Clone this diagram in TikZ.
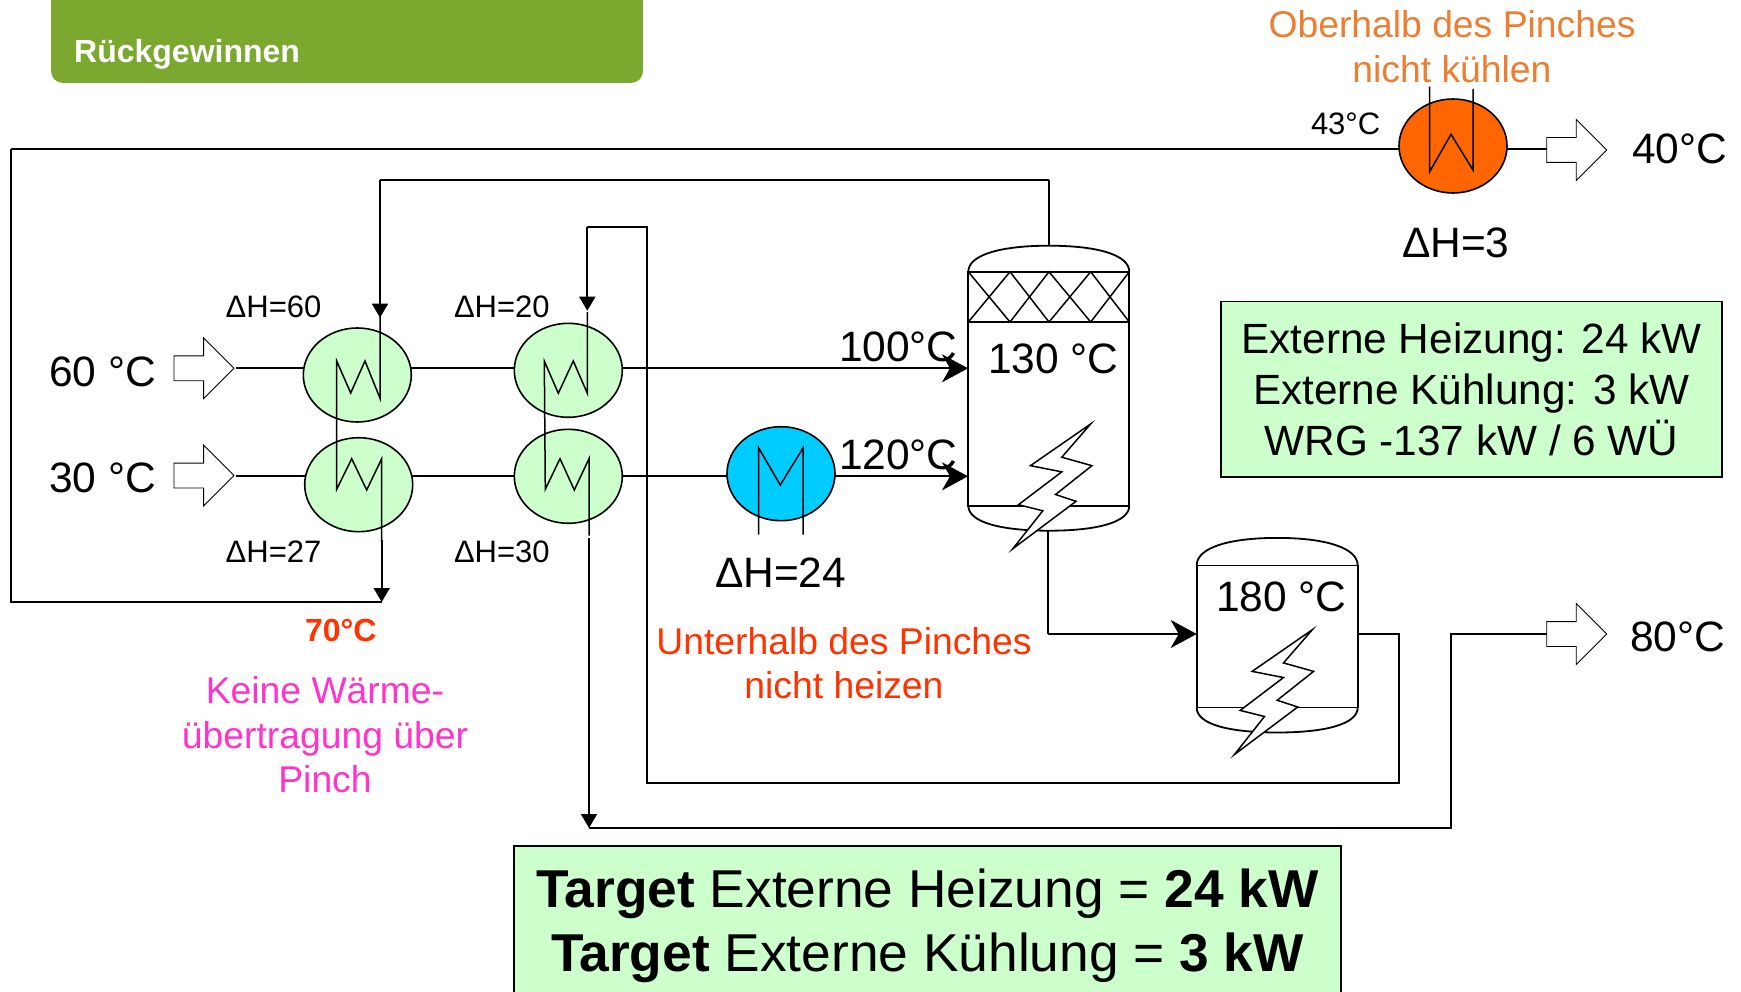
\documentclass[tikz,border=0pt]{standalone}
\usepackage{fontspec}
\setmainfont{Liberation Sans}
\usetikzlibrary{arrows.meta,shapes.geometric,shapes.arrows}
\tikzset{
  hx/.style={ellipse,draw=black,line width=1.6pt,minimum width=108pt,minimum height=94pt,inner sep=0pt,outer sep=0pt},
  recov/.style={hx,fill=recgreen},
  stream/.style={draw=black,line width=2pt},
  coil/.style={draw=black,line width=1.5pt,line join=miter},
  vtip/.style={-{Triangle[length=14pt,width=16pt]}},
  htip/.style={-{Stealth[length=26pt,width=28pt,inset=8pt]}},
  hollow/.style={single arrow,draw=black,fill=white,line width=0.8pt,minimum height=60pt,inner xsep=0pt,inner ysep=12pt,single arrow head extend=18pt,single arrow tip angle=90,single arrow head indent=0pt,outer sep=0pt,anchor=tip},
  vessel/.style={draw=black,line width=1.8pt},
  bolt/.style={draw=black,fill=white,line width=1.5pt,line join=miter},
  lbl/.style={anchor=base west,inner sep=0pt,outer sep=0pt,text=black},
  sz30/.style={font=\fontsize{31}{36}\selectfont},
  sz42/.style={font=\fontsize{42.5}{48}\selectfont},
  note/.style={align=center,inner sep=0pt,outer sep=0pt,font=\fontsize{37.3}{44.4}\selectfont},
}
\definecolor{recgreen}{HTML}{CCFFCC}
\definecolor{headgreen}{HTML}{7BA82F}
\definecolor{orangetxt}{HTML}{ED7D31}
\definecolor{redtxt}{HTML}{FF3300}
\definecolor{magentatxt}{HTML}{FF33CC}
\definecolor{hotcyan}{HTML}{00CCFF}
\definecolor{coolorange}{HTML}{FF6600}
\begin{document}
\begin{tikzpicture}[x=1pt,y=-1pt]
\useasboundingbox (0,0) rectangle (1741,992);
% header
\fill[headgreen] (51,0) [rounded corners=12pt] -- (51,83) -- (643,83) [sharp corners] -- (643,0) -- cycle;
\node[anchor=base west,inner sep=0pt,text=white,font=\fontsize{32}{36}\selectfont\bfseries] (head) at (74,62.5) {Rückgewinnen};
% routing points
\coordinate (a) at (11,602);
\coordinate (b) at (11,148.7);
\coordinate (c) at (381.7,602);
\coordinate (d) at (380,180);
\coordinate (e) at (1049,180);
\coordinate (f) at (587.3,227.3);
\coordinate (g) at (646.7,227.3);
\coordinate (h) at (646.7,783);
\coordinate (i) at (1399,783);
\coordinate (j) at (1399,634);
\coordinate (k) at (589,828);
\coordinate (l) at (1451,828);
\coordinate (m) at (1451,634);
\coordinate (n) at (1047.7,634);
\coordinate (in1) at (968,368.3);
\coordinate (in2) at (968,476.3);
\coordinate (t1top) at (1049,245.7);
\coordinate (t1bot) at (1047.7,530.7);
\coordinate (t2in) at (1196.7,634);
\coordinate (t2out) at (1357.7,634);
% hollow arrows
\node[hollow] (arr60) at (234,368.3) {};
\node[hollow] (arr30) at (234,475.5) {};
\node[hollow] (arr40) at (1606.7,150) {};
\node[hollow] (arr80) at (1606.7,634) {};
% exchangers
\node[recov] (hx1) at (357.3,375) {};
\node[recov] (hx2) at (358.7,484.7) {};
\node[recov] (hx3) at (568.3,370.3) {};
\node[recov] (hx4) at (568.3,476.3) {};
\node[hx,fill=hotcyan] (heat) at (781,473.7) {};
\node[hx,fill=coolorange] (cool) at (1453,146) {};
% main streams
\draw[stream] ([xshift=2pt]arr60.tip |- in1) -- (hx1.172.5 |- in1);
\draw[stream] (hx1.7.5 |- in1) -- (hx3.177.5 |- in1);
\draw[stream,htip] (hx3.2.5 |- in1) -- (in1);
\draw[stream] ([xshift=2pt]arr30.tip |- in2) -- (hx2.171 |- in2);
\draw[stream] (hx2.9 |- in2) -- (hx4.west |- in2);
\draw[stream] (hx4.east |- in2) -- (heat.183 |- in2);
\draw[stream,htip] (heat.-3 |- in2) -- (in2);
\draw[stream] (cool.-3 |- b) -- (arr40.tail |- b);
% long routes
\draw[stream] (b) -- (cool.183 |- b);
\draw[stream] (e) -- (d);
\draw[stream,vtip] (d) -- (380,317.7);
\draw[stream,vtip] (f) -- (587.3,310.7);
\draw[stream] (f) -- (g) -- (h) -- (i) -- (j) -- (t2out);
\draw[stream,vtip] (381.7,540) -- (c);
\draw[stream] (c) -- (a) -- (b);
\draw[stream,vtip] (589,538) -- (k);
\draw[stream] (k) -- (l) -- (m) -- (arr80.tail);
\draw[stream] (e) -- (t1top);
\draw[stream] (t1bot) -- (n);
\draw[stream,htip] (n) -- (t2in);
% coils
\draw[coil] (380,312) -- (380,398.3) -- (365,361) -- (350.7,393) -- (336.7,361) -- (336.7,489.3) -- (351.7,458.7) -- (366.7,490) -- (381.7,458.7) -- (381.7,542);
\draw[coil] (587.3,312) -- (587.3,393.3) -- (573.3,361) -- (558.3,393.3) -- (544.3,361) -- (545.3,489.3) -- (560,458.7) -- (574.3,490) -- (589,458.7) -- (589,535.5);
\draw[coil] (758.7,534.7) -- (758.7,448) -- (780.3,485) -- (803,448) -- (803,534.7);
\draw[coil] (1429.7,86.7) -- (1429.7,171.7) -- (1451,134.3) -- (1473,170) -- (1473,89);
% vessel 1
\node[draw=black,line width=1.8pt,fill=white,minimum width=161pt,minimum height=233.9pt,inner sep=0pt,outer sep=0pt] (tank1) at (1048.8,388.75) {};
\draw[vessel] (tank1.north west) .. controls (968.3,255) and (1000,245.7) .. (t1top) .. controls (1098,245.7) and (1129.3,255) .. (tank1.north east);
\draw[vessel] (tank1.south west) .. controls (968.3,522) and (1000,530.7) .. (1049,530.7) .. controls (1098,530.7) and (1129.3,522) .. (tank1.south east);
\draw[vessel] (968.3,322) -- (1129.3,322);
\draw[coil] (968.3,271.8) -- (1010,322) -- (1049,271.8) -- (1090.7,322) -- (1129.3,271.8);
\draw[coil] (968.3,322) -- (1010,271.8) -- (1049,322) -- (1090.7,271.8) -- (1129.3,322);
\draw[bolt,shift={(1052,486)},scale=0.95,shift={(-1052,-486)}] (1092.7,420.7) -- (1029.3,464.6) -- (1062.3,471.1) -- (1016.7,505.7) -- (1042.3,512.1) -- (1010.7,552.1) -- (1077.3,502.1) -- (1055.7,495) -- (1094,464.6) -- (1062.3,455.7) -- cycle;
% vessel 2
\node[draw=black,line width=1.8pt,fill=white,minimum width=161pt,minimum height=142.1pt,inner sep=0pt,outer sep=0pt] (tank2) at (1277.2,636.45) {};
\draw[vessel] (tank2.north west) .. controls (1196.7,548) and (1228,537.9) .. (1277.2,537.9) .. controls (1326,537.9) and (1357.7,548) .. (tank2.north east);
\draw[vessel] (tank2.south west) .. controls (1196.7,724) and (1228,732.5) .. (1277.2,732.5) .. controls (1326,732.5) and (1357.7,724) .. (tank2.south east);
\draw[bolt,shift={(1273.7,691.7)},scale=0.95,shift={(-1052,-486)}] (1092.7,420.7) -- (1029.3,464.6) -- (1062.3,471.1) -- (1016.7,505.7) -- (1042.3,512.1) -- (1010.7,552.1) -- (1077.3,502.1) -- (1055.7,495) -- (1094,464.6) -- (1062.3,455.7) -- cycle;
% labels
\node[lbl,sz42] (t60) at (49,387) {60 °C};
\node[lbl,sz42] (t30) at (49,492) {30 °C};
\node[lbl,sz30] (d60) at (225.7,317.7) {ΔH=60};
\node[lbl,sz30] (d20) at (454,317.7) {ΔH=20};
\node[lbl,sz30] (d27) at (225.7,562) {ΔH=27};
\node[lbl,sz30] (d30) at (454,562) {ΔH=30};
\node[lbl,sz42] (t100) at (839,362) {100°C};
\node[lbl,sz42] (t120) at (839,469.3) {120°C};
\node[lbl,sz42] (t130) at (988,373.6) {130 °C};
\node[lbl,sz42] (t180) at (1216,611) {180 °C};
\node[lbl,sz42] (d24) at (715,587.7) {ΔH=24};
\node[lbl,sz30] (t43) at (1311,135) {43°C};
\node[lbl,sz42] (t40) at (1632,164) {40°C};
\node[lbl,sz42] (t80) at (1630,651) {80°C};
\node[lbl,sz42] (d3) at (1402,257.5) {ΔH=3};
\node[lbl,text=redtxt,font=\fontsize{32}{36}\selectfont\bfseries] (t70) at (305,641.5) {70°C};
\node[note,text=orangetxt] (nOben) at (1452,46.5) {Oberhalb des Pinches\\nicht kühlen};
\node[note,text=redtxt] (nUnten) at (844,663) {Unterhalb des Pinches\\nicht heizen};
\node[note,text=magentatxt] (nPinch) at (325,735) {Keine Wärme-\\übertragung über\\Pinch};
% boxes
\node[draw=black,line width=1.8pt,fill=recgreen,minimum width=501pt,minimum height=175.5pt,inner sep=0pt,outer sep=0pt,align=center,font=\fontsize{42.3}{51}\selectfont] (box1) at (1471.5,389.3) {Externe Heizung: 24 kW\\Externe Kühlung: 3 kW\\WRG -137 kW / 6 WÜ};
\node[fill=recgreen,minimum width=827pt,minimum height=146pt,inner sep=0pt,outer sep=0pt] (box2) at (927.5,919) {};
\draw[line width=1.8pt] (box2.south west) -- (box2.north west) -- (box2.north east) -- (box2.south east);
\node[inner sep=0pt,outer sep=0pt,align=center,font=\fontsize{53.3}{64.5}\selectfont] (box2txt) at (927.5,926) {\textbf{Target} Externe Heizung = \textbf{24 kW}\\\textbf{Target} Externe Kühlung = \textbf{3 kW}};
\end{tikzpicture}
\end{document}
